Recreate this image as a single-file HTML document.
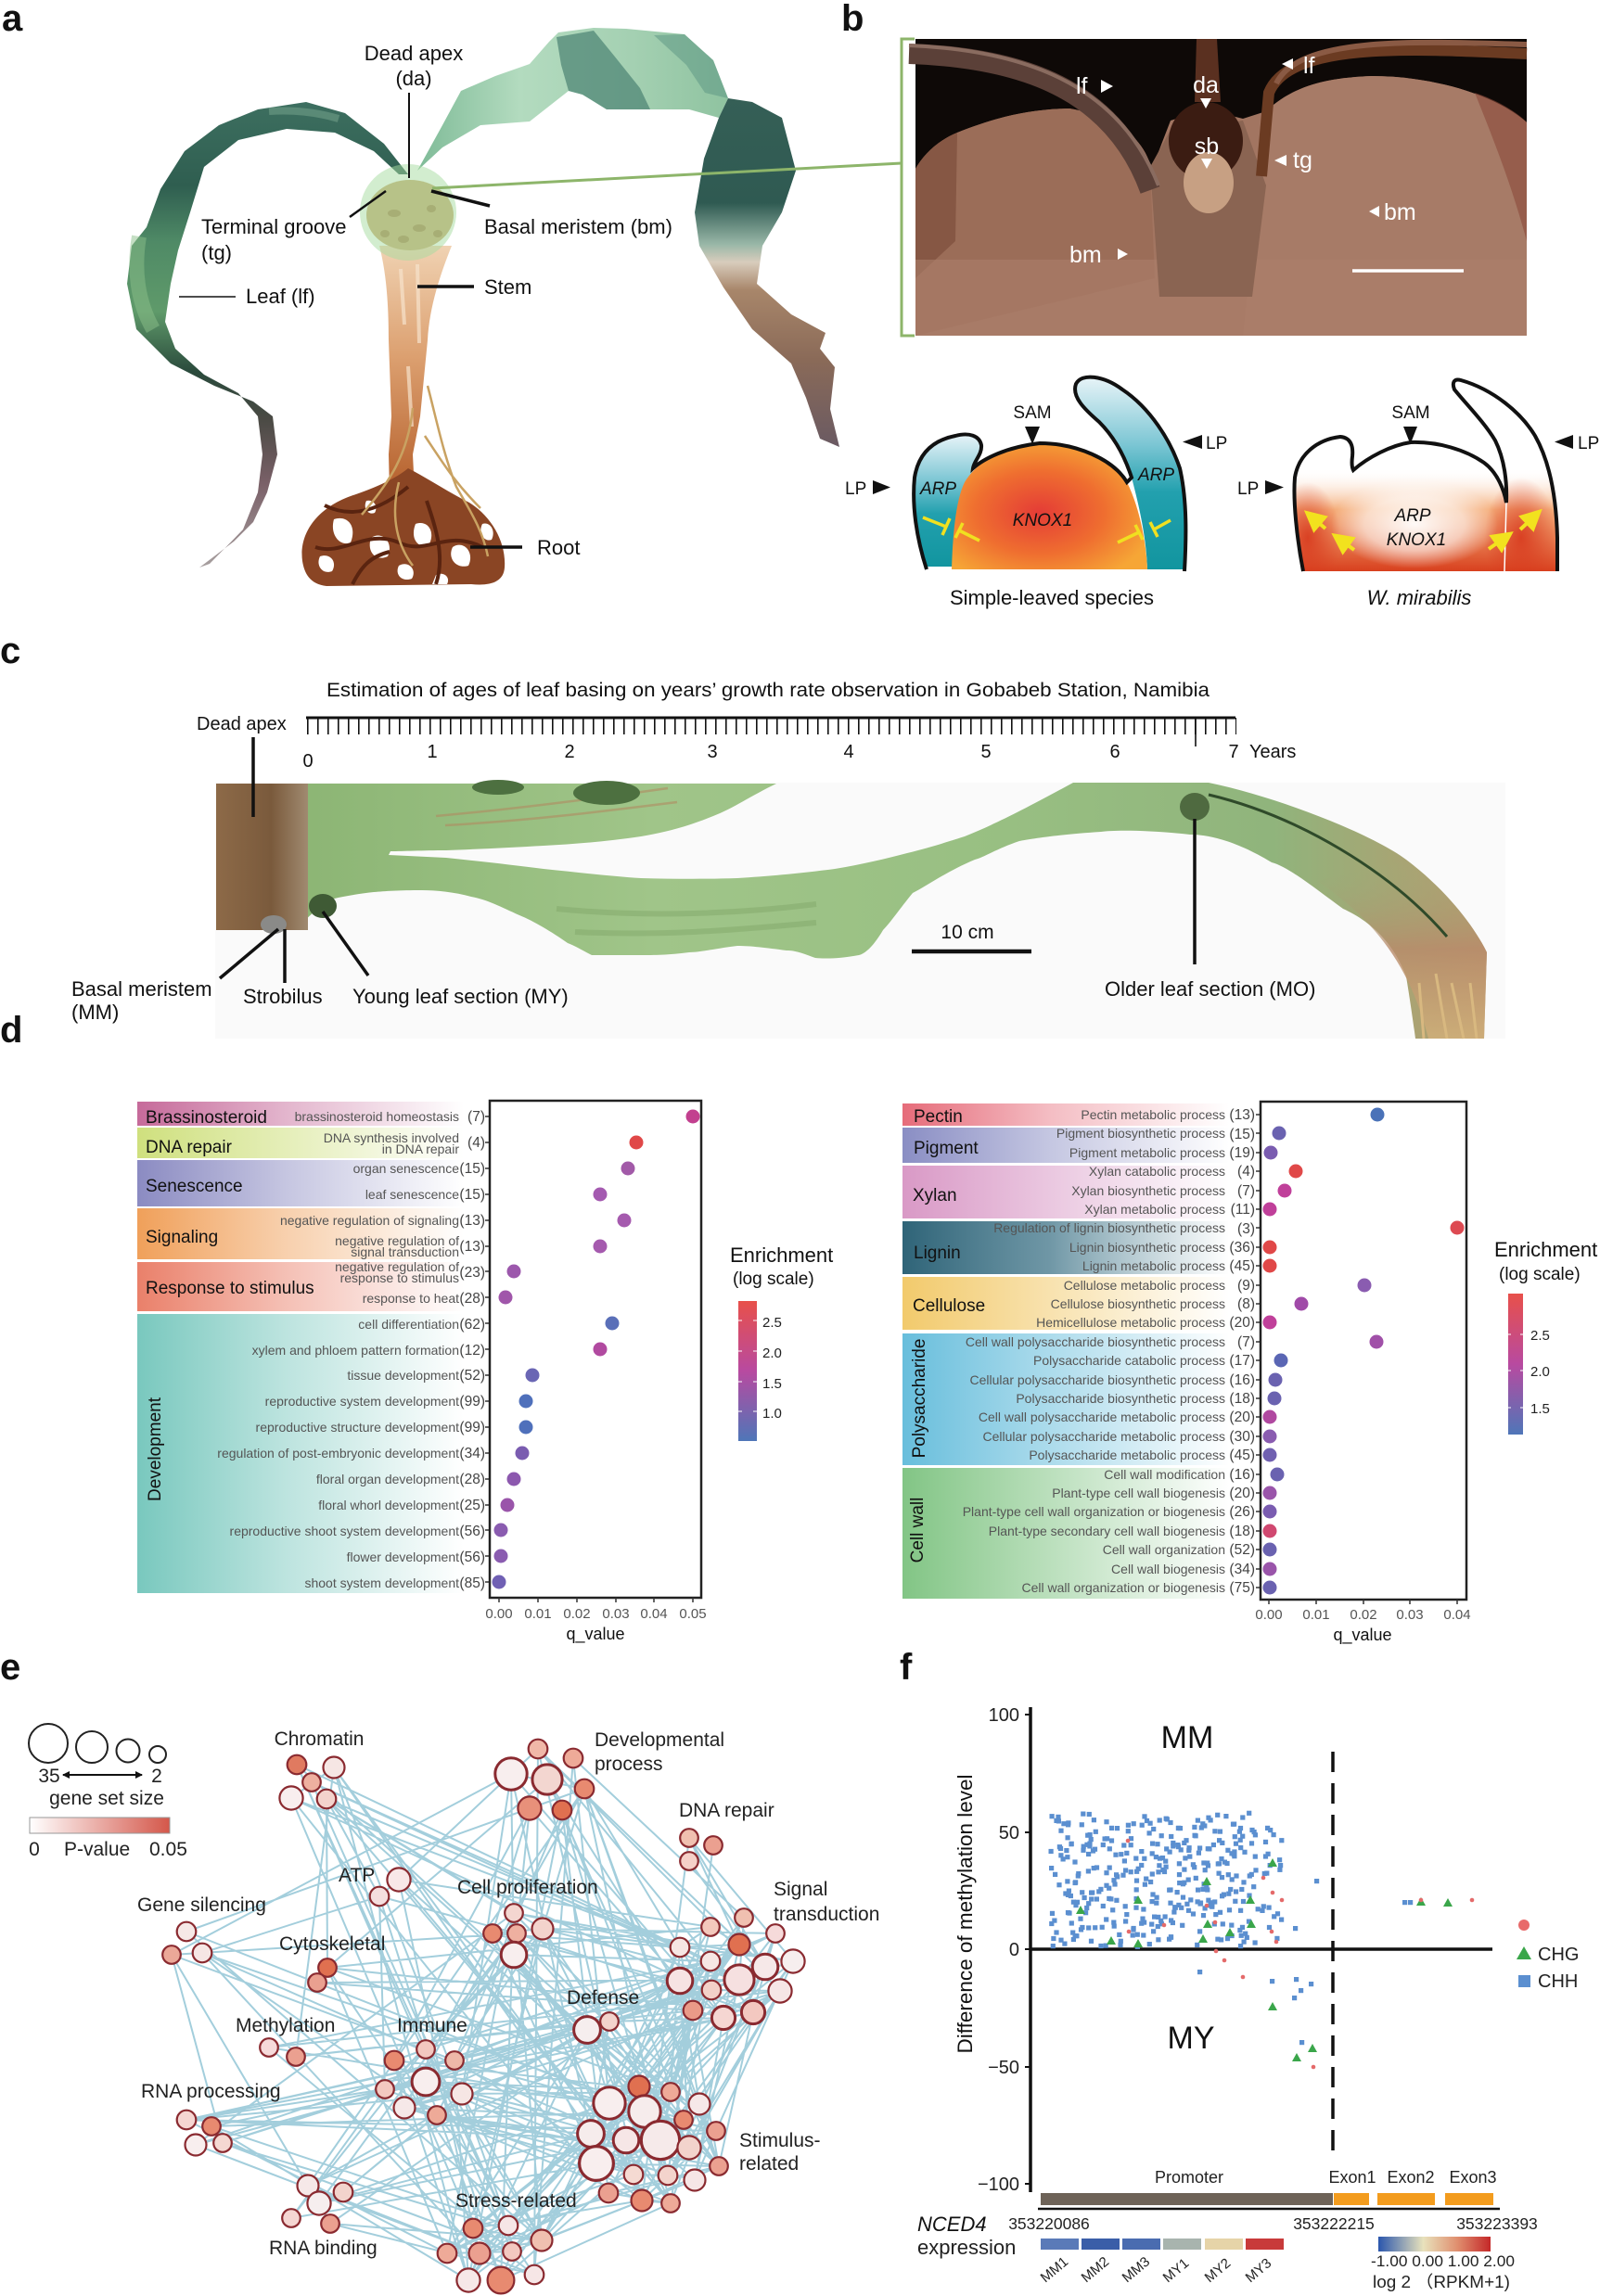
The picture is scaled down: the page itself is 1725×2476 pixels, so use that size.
<!DOCTYPE html>
<html><head><meta charset="utf-8">
<style>
html,body{margin:0;padding:0;background:#fff;}
svg{display:block;}
text{font-family:"Liberation Sans","Noto Sans CJK SC",sans-serif;}
</style></head><body>
<svg id="s" width="1725" height="2476" viewBox="0 0 1725 2476" xmlns="http://www.w3.org/2000/svg">
<defs>
<linearGradient id="lleaf" x1="0" y1="0" x2="0" y2="1">
<stop offset="0" stop-color="#3d6f60"/><stop offset="0.18" stop-color="#2f5e50"/><stop offset="0.3" stop-color="#4f8a66"/><stop offset="0.45" stop-color="#5f9a6a"/><stop offset="0.58" stop-color="#2a4a3c"/><stop offset="0.68" stop-color="#4a4a44"/><stop offset="0.82" stop-color="#7a6068"/><stop offset="1" stop-color="#a8a0a0"/>
</linearGradient>
<linearGradient id="rleaf" x1="0" y1="0" x2="1" y2="0">
<stop offset="0" stop-color="#7ab894"/><stop offset="0.35" stop-color="#b3dbbf"/><stop offset="0.7" stop-color="#a4d0b2"/><stop offset="1" stop-color="#8fc3a0"/>
</linearGradient>
<linearGradient id="rside" x1="0" y1="0" x2="0" y2="1">
<stop offset="0" stop-color="#355f56"/><stop offset="0.3" stop-color="#2f5a52"/><stop offset="0.42" stop-color="#9ab8a8"/><stop offset="0.47" stop-color="#d8ccbc"/><stop offset="0.55" stop-color="#a8866a"/><stop offset="0.75" stop-color="#8a6a58"/><stop offset="1" stop-color="#6a5a62"/>
</linearGradient>
<linearGradient id="stem" x1="0" y1="0" x2="0" y2="1">
<stop offset="0" stop-color="#f0d2b2"/><stop offset="0.45" stop-color="#dca070"/><stop offset="1" stop-color="#b5602c"/>
</linearGradient>
<linearGradient id="teal" x1="0" y1="0" x2="0" y2="1">
<stop offset="0" stop-color="#e8f4f8"/><stop offset="0.35" stop-color="#7cc6d4"/><stop offset="0.6" stop-color="#22a0ae"/><stop offset="1" stop-color="#12959f"/>
</linearGradient>
<radialGradient id="knox" cx="0.45" cy="0.55" r="0.6">
<stop offset="0" stop-color="#e43c36"/><stop offset="0.55" stop-color="#ef6e30"/><stop offset="1" stop-color="#f6a636"/>
</radialGradient>
<linearGradient id="wmv" gradientUnits="userSpaceOnUse" x1="0" y1="505" x2="0" y2="616">
<stop offset="0" stop-color="#ffffff" stop-opacity="0"/><stop offset="0.4" stop-color="#f29a5a" stop-opacity="0.8"/><stop offset="1" stop-color="#d8401e"/>
</linearGradient>
<radialGradient id="wmw" cx="0.5" cy="0.5" r="0.5">
<stop offset="0" stop-color="#fff" stop-opacity="0.95"/><stop offset="0.6" stop-color="#fff" stop-opacity="0.6"/><stop offset="1" stop-color="#fff" stop-opacity="0"/>
</radialGradient>
<radialGradient id="wmr" cx="0.5" cy="0.5" r="0.5">
<stop offset="0" stop-color="#d83a1e" stop-opacity="0.9"/><stop offset="1" stop-color="#d83a1e" stop-opacity="0"/>
</radialGradient>
<clipPath id="wmclip"><path d="M1405,616 C1398,580 1394,540 1396,515 C1400,490 1420,474 1445,471 C1457,472 1459,482 1458,492 C1457,500 1458,505 1459,507 C1475,493 1500,480 1521,477 C1550,476 1580,485 1600,499 C1615,510 1622,530 1624,542 C1625,520 1622,495 1612,475 C1600,455 1580,435 1568,420 C1565,412 1568,408 1575,410 C1610,420 1640,445 1655,470 C1672,500 1678,540 1679,580 L1679,616 Z"/></clipPath>
<linearGradient id="cleaf" x1="0" y1="0" x2="1" y2="0">
<stop offset="0" stop-color="#8cb574"/><stop offset="0.3" stop-color="#a0c589"/><stop offset="0.6" stop-color="#98bf82"/><stop offset="0.82" stop-color="#90b47c"/><stop offset="1" stop-color="#b89a6e"/>
</linearGradient>
<linearGradient id="ctail" x1="0" y1="0" x2="0" y2="1">
<stop offset="0" stop-color="#98b07a" stop-opacity="0"/><stop offset="0.5" stop-color="#b88a6a"/><stop offset="1" stop-color="#d2b07a"/>
</linearGradient>
<linearGradient id="soil" x1="0" y1="0" x2="1" y2="0">
<stop offset="0" stop-color="#8d6a48"/><stop offset="0.6" stop-color="#7a5a3c"/><stop offset="1" stop-color="#a08a70"/>
</linearGradient>
<pattern id="tick" x="331" y="0" width="11" height="20" patternUnits="userSpaceOnUse"><rect x="0" y="0" width="1.6" height="20" fill="#111"/></pattern>
<linearGradient id="gB"><stop offset="0" stop-color="#c66a9a"/><stop offset="0.45" stop-color="#c66a9a" stop-opacity="0.5"/><stop offset="1" stop-color="#c66a9a" stop-opacity="0"/></linearGradient>
<linearGradient id="gD"><stop offset="0" stop-color="#cfe07e"/><stop offset="0.45" stop-color="#cfe07e" stop-opacity="0.55"/><stop offset="1" stop-color="#cfe07e" stop-opacity="0"/></linearGradient>
<linearGradient id="gS"><stop offset="0" stop-color="#8b8bc2"/><stop offset="0.45" stop-color="#8b8bc2" stop-opacity="0.5"/><stop offset="1" stop-color="#8b8bc2" stop-opacity="0"/></linearGradient>
<linearGradient id="gG"><stop offset="0" stop-color="#f0a05a"/><stop offset="0.45" stop-color="#f0a05a" stop-opacity="0.5"/><stop offset="1" stop-color="#f0a05a" stop-opacity="0"/></linearGradient>
<linearGradient id="gR"><stop offset="0" stop-color="#ea806a"/><stop offset="0.45" stop-color="#ea806a" stop-opacity="0.5"/><stop offset="1" stop-color="#ea806a" stop-opacity="0"/></linearGradient>
<linearGradient id="gV"><stop offset="0" stop-color="#79c8be"/><stop offset="0.45" stop-color="#79c8be" stop-opacity="0.5"/><stop offset="1" stop-color="#79c8be" stop-opacity="0"/></linearGradient>
<linearGradient id="gP"><stop offset="0" stop-color="#e66c7a"/><stop offset="0.45" stop-color="#e66c7a" stop-opacity="0.45"/><stop offset="1" stop-color="#e66c7a" stop-opacity="0"/></linearGradient>
<linearGradient id="gPi"><stop offset="0" stop-color="#8a8ec4"/><stop offset="0.45" stop-color="#8a8ec4" stop-opacity="0.5"/><stop offset="1" stop-color="#8a8ec4" stop-opacity="0"/></linearGradient>
<linearGradient id="gX"><stop offset="0" stop-color="#d999c6"/><stop offset="0.45" stop-color="#d999c6" stop-opacity="0.55"/><stop offset="1" stop-color="#d999c6" stop-opacity="0"/></linearGradient>
<linearGradient id="gL"><stop offset="0" stop-color="#2f6478"/><stop offset="0.45" stop-color="#3f7488" stop-opacity="0.75"/><stop offset="1" stop-color="#5a8a9a" stop-opacity="0"/></linearGradient>
<linearGradient id="gC"><stop offset="0" stop-color="#f2ca6c"/><stop offset="0.45" stop-color="#f2ca6c" stop-opacity="0.55"/><stop offset="1" stop-color="#f2ca6c" stop-opacity="0"/></linearGradient>
<linearGradient id="gPo"><stop offset="0" stop-color="#68bedc"/><stop offset="0.45" stop-color="#68bedc" stop-opacity="0.55"/><stop offset="1" stop-color="#68bedc" stop-opacity="0"/></linearGradient>
<linearGradient id="gW"><stop offset="0" stop-color="#82c585"/><stop offset="0.45" stop-color="#82c585" stop-opacity="0.55"/><stop offset="1" stop-color="#82c585" stop-opacity="0"/></linearGradient>
<linearGradient id="enr" x1="0" y1="0" x2="0" y2="1">
<stop offset="0" stop-color="#e8504a"/><stop offset="0.5" stop-color="#b84aa0"/><stop offset="1" stop-color="#4f76b8"/>
</linearGradient>
<linearGradient id="pval" x1="0" y1="0" x2="1" y2="0">
<stop offset="0" stop-color="#ffffff"/><stop offset="1" stop-color="#d4574a"/>
</linearGradient>
<linearGradient id="expr" x1="0" y1="0" x2="1" y2="0">
<stop offset="0" stop-color="#2a56ad"/><stop offset="0.4" stop-color="#e8e2bc"/><stop offset="0.7" stop-color="#e09070"/><stop offset="1" stop-color="#c42828"/>
</linearGradient>
<marker id="ya" markerWidth="6" markerHeight="6" refX="3" refY="3" orient="auto" markerUnits="strokeWidth"><path d="M0,0 L6,3 L0,6 Z" fill="#f2e21e"/></marker>
<marker id="ba" markerWidth="8" markerHeight="8" refX="7" refY="4" orient="auto" markerUnits="userSpaceOnUse"><path d="M0,0 L8,4 L0,8 Z" fill="#111"/></marker>
<marker id="bs" markerWidth="8" markerHeight="8" refX="1" refY="4" orient="auto" markerUnits="userSpaceOnUse"><path d="M8,0 L0,4 L8,8 Z" fill="#111"/></marker>
</defs>

<!-- ===================== PANEL A ===================== -->
<text x="2" y="33" font-size="40" font-weight="bold" fill="#111">a</text>
<path d="M409,265 C418,300 419,340 419,367 L422,449 L419,490 L420,530 L447,530 L445,490 L453,449 L461,367 C463,330 475,295 487,265 Z" fill="url(#stem)"/>
<path d="M432,290 L436,350 M450,285 L452,370 M440,395 L444,460" stroke="#f6e2cc" stroke-width="4" fill="none" opacity="0.7"/>
<!-- roots (tangle) -->
<path d="M326,605 C322,575 342,548 378,535 C408,525 428,515 440,505 C460,515 482,530 506,542 C530,557 546,585 544,612 C543,628 528,632 508,630 L352,632 C334,630 328,618 326,605 Z" fill="#8a4524"/>
<g fill="#fff">
<path d="M360,560 C375,555 385,568 378,585 C368,590 355,578 360,560 Z"/>
<path d="M400,580 C412,572 425,585 418,600 C405,606 395,595 400,580 Z"/>
<path d="M448,565 C462,560 470,575 462,588 C450,592 442,580 448,565 Z"/>
<path d="M488,590 C500,582 512,596 505,610 C492,614 482,602 488,590 Z"/>
<path d="M345,600 C356,596 364,606 358,616 C348,620 340,610 345,600 Z"/>
<path d="M430,610 C440,604 450,614 444,624 C434,628 425,620 430,610 Z"/>
<path d="M520,565 C528,562 535,572 530,582 C522,585 515,575 520,565 Z"/>
<path d="M395,540 C403,538 408,546 404,553 C397,556 391,548 395,540 Z"/>
<path d="M470,620 C478,616 486,622 482,630 L466,630 Z"/>
</g>
<path d="M340,590 C370,600 395,570 430,585 C460,600 480,570 520,590 M350,545 C380,560 410,550 440,525 M380,630 C390,610 400,600 420,595 M460,540 C470,570 480,600 470,630" stroke="#5a2410" stroke-width="4" fill="none"/>
<path d="M461,416 C470,450 478,490 492,525 C505,548 520,570 526,600 M445,440 C440,490 420,520 390,555 M458,470 C478,500 490,520 518,548 M430,520 C420,560 430,590 445,610" stroke="#c9a262" stroke-width="2.5" fill="none"/>
<!-- bulb -->
<ellipse cx="442" cy="232" rx="47" ry="38" fill="#c9a870"/>
<ellipse cx="425" cy="230" rx="7" ry="4" fill="#a9804a"/><ellipse cx="452" cy="246" rx="7" ry="4" fill="#a9804a"/><ellipse cx="435" cy="258" rx="6" ry="4" fill="#a9804a"/><ellipse cx="465" cy="225" rx="5" ry="4" fill="#a9804a"/><ellipse cx="415" cy="252" rx="5" ry="4" fill="#a9804a"/><ellipse cx="472" cy="252" rx="5" ry="4" fill="#a9804a"/>
<!-- left leaf -->
<path d="M440,188 L414,155 L372,122 L330,110 L278,118 L236,135 L199,163 L173,204 L158,245 L142,265 L137,306 L147,355 L184,392 L231,416 L273,433 L294,449 L299,490 L288,531 L273,563 L252,584 L215,612 L226,608 L262,571 L278,531 L283,490 L278,449 L257,424 L220,404 L189,376 L178,347 L184,306 L192,270 L205,229 L220,180 L257,151 L309,139 L361,143 L403,163 L430,188 Z" fill="url(#lleaf)"/>
<path d="M150,255 C144,290 148,325 165,355" stroke="#8cc08a" stroke-width="16" fill="none" opacity="0.5"/>
<path d="M290,120 C320,118 345,122 365,128" stroke="#7aa890" stroke-width="8" fill="none" opacity="0.5"/>
<!-- right leaf -->
<path d="M440,196 L450,184 L477,135 L497,98 L534,82 L571,69 L592,45 L602,35 L640,30 L675,31 L738,37 L769,65 L785,106 L775,127 L743,118 L701,118 L654,118 L628,102 L613,98 L571,131 L518,135 L477,159 L450,184 Z" fill="url(#rleaf)"/>
<path d="M600,40 L640,33 L662,60 L690,95 L701,118 L654,118 L628,102 L613,98 L605,70 Z" fill="#4a8272" opacity="0.7"/>
<path d="M705,38 L738,37 L769,65 L785,106 L760,100 L740,70 Z" fill="#5a9482" opacity="0.5"/>
<path d="M775,127 L785,106 L811,110 L843,127 L858,184 L843,229 L822,265 L816,306 L853,339 L890,359 L884,376 L900,396 L895,441 L905,482 L884,473 L869,429 L853,392 L811,355 L780,310 L754,265 L749,229 L759,171 Z" fill="url(#rside)"/>
<circle cx="440" cy="229" r="52" fill="#a6dba0" opacity="0.5"/>
<line x1="441" y1="100" x2="441" y2="192" stroke="#111" stroke-width="2"/>
<line x1="377" y1="234" x2="416" y2="206" stroke="#111" stroke-width="2.5"/>
<line x1="465" y1="206" x2="528" y2="222" stroke="#111" stroke-width="3.5"/>
<line x1="450" y1="309" x2="511" y2="309" stroke="#111" stroke-width="3.5"/>
<line x1="193" y1="320" x2="254" y2="320" stroke="#111" stroke-width="1.6"/>
<line x1="507" y1="590" x2="563" y2="590" stroke="#111" stroke-width="3.5"/>
<line x1="466" y1="203" x2="972" y2="176" stroke="#8db56a" stroke-width="3"/>
<path d="M986,42 L972,42 L972,362 L986,362" stroke="#8db56a" stroke-width="3" fill="none"/>
<g font-size="22" fill="#111">
<text x="446" y="65" text-anchor="middle">Dead apex</text>
<text x="446" y="92" text-anchor="middle">(da)</text>
<text x="217" y="252">Terminal groove</text>
<text x="217" y="280">(tg)</text>
<text x="522" y="252">Basal meristem (bm)</text>
<text x="522" y="317">Stem</text>
<text x="265" y="327">Leaf (lf)</text>
<text x="579" y="598">Root</text>
</g>

<!-- ===================== PANEL B ===================== -->
<text x="907" y="33" font-size="40" font-weight="bold" fill="#111">b</text>
<g>
<rect x="987" y="42" width="659" height="320" fill="#a27561"/>
<path d="M987,42 H1646 V132 C1610,100 1540,82 1479,82 C1430,84 1395,92 1365,120 L1340,128 L1300,118 L1262,130 L1242,182 C1232,150 1210,128 1153,117 C1105,118 1070,128 1032,143 C1010,152 995,168 987,182 Z" fill="#0e0907"/>
<path d="M987,182 C995,168 1010,152 1032,143 C1070,128 1105,118 1153,117 C1200,125 1225,140 1240,182 L1245,300 L987,362 Z" fill="#9b6d58"/>
<path d="M987,182 C995,168 1010,152 1032,143 L1030,260 L987,300 Z" fill="#7e4e3c" opacity="0.7"/>
<path d="M1365,120 C1395,92 1430,84 1479,82 C1540,82 1610,100 1646,132 V362 H1340 Z" fill="#a77b67"/>
<path d="M1590,100 C1620,110 1640,125 1646,132 V260 C1630,200 1610,150 1590,100 Z" fill="#8a4a3a" opacity="0.6"/>
<rect x="987" y="280" width="659" height="82" fill="#ab7f6a" opacity="0.6"/>
<path d="M1240,180 L1262,140 L1340,130 L1365,200 L1350,320 L1250,320 Z" fill="#8a6452"/>
<path d="M1290,42 L1312,42 L1316,110 L1288,110 Z" fill="#5a3020"/>
<ellipse cx="1300" cy="152" rx="40" ry="42" fill="#3b1c12"/>
<ellipse cx="1303" cy="197" rx="27" ry="33" fill="#c7a083"/>
<path d="M980,58 C1100,62 1200,95 1240,205" stroke="#5b4038" stroke-width="22" fill="none"/>
<path d="M980,49 C1100,54 1205,88 1249,200" stroke="#8a6c60" stroke-width="4" fill="none"/>
<path d="M1646,58 C1520,52 1390,45 1368,100 L1360,190" stroke="#6b3b22" stroke-width="12" fill="none"/>
<path d="M1646,48 C1520,44 1400,40 1376,90" stroke="#8a5a44" stroke-width="6" fill="none"/>
<line x1="1458" y1="292" x2="1578" y2="292" stroke="#fff" stroke-width="3.5"/>
<g fill="#fff" font-size="25">
<text x="1160" y="101">lf</text><polygon points="1187,86 1200,93 1187,100"/>
<text x="1300" y="100" text-anchor="middle">da</text><polygon points="1294,106 1306,106 1300,117"/>
<polygon points="1394,63 1382,69 1394,75"/><text x="1405" y="79">lf</text>
<text x="1301" y="166" text-anchor="middle">sb</text><polygon points="1295,171 1307,171 1301,182"/>
<polygon points="1387,167 1374,173 1387,179"/><text x="1394" y="181">tg</text>
<polygon points="1487,222 1476,228 1487,234"/><text x="1492" y="237">bm</text>
<text x="1153" y="283">bm</text><polygon points="1205,268 1216,274 1205,280"/>
</g>
</g>
<path d="M997,611 C988,580 983,545 986,515 C990,490 1005,475 1030,470 C1045,466 1056,470 1058,480 C1059,490 1050,497 1049,505 C1047,520 1040,560 1032,611 Z" fill="url(#teal)"/>
<path d="M1237,614 C1236,580 1228,545 1220,515 C1212,490 1200,470 1185,455 C1170,442 1155,428 1160,414 C1166,402 1190,405 1210,420 C1240,440 1262,475 1272,505 C1280,540 1279,580 1277,614 Z" fill="url(#teal)"/>
<path d="M1026,614 C1027,580 1030,540 1040,520 C1055,495 1085,482 1121,478 C1160,478 1200,495 1215,520 C1230,550 1236,590 1237,614 Z" fill="url(#knox)"/>
<path d="M999,614 C988,580 983,545 986,515 C990,490 1005,475 1030,470 C1045,466 1056,470 1058,480 C1059,490 1050,497 1049,505 C1060,495 1085,482 1121,478 C1160,478 1200,495 1215,520 L1220,515 C1212,490 1200,470 1185,455 C1170,442 1155,428 1160,414 C1166,402 1190,405 1210,420 C1240,440 1262,475 1272,505 C1280,540 1279,580 1277,616" stroke="#111" stroke-width="4" fill="none"/>
<g stroke="#f0e020" stroke-width="3.5" fill="none">
<path d="M995,558 L1020,568 M1024,559 L1016,577"/>
<path d="M1056,583 L1034,572 M1030,580 L1038,564"/>
<path d="M1205,585 L1228,574 M1224,566 L1232,582"/>
<path d="M1262,561 L1244,571 M1240,563 L1248,579"/>
</g>
<g font-size="19" fill="#111">
<text x="1113" y="451" text-anchor="middle">SAM</text>
<polygon points="1105,460 1121,460 1113,479"/>
<text x="911" y="533">LP</text><polygon points="941,518 960,525.5 941,533"/>
<polygon points="1296,469 1275,476.5 1296,484"/><text x="1300" y="484">LP</text>
<text x="992" y="533" font-style="italic">ARP</text>
<text x="1227" y="518" font-style="italic">ARP</text>
<text x="1124" y="567" font-style="italic" text-anchor="middle">KNOX1</text>
</g>
<text x="1134" y="652" font-size="22" text-anchor="middle" fill="#111">Simple-leaved species</text>
<g clip-path="url(#wmclip)">
<rect x="1385" y="400" width="300" height="220" fill="#fff"/>
<rect x="1385" y="400" width="300" height="220" fill="url(#wmv)"/>
<ellipse cx="1410" cy="580" rx="35" ry="60" fill="url(#wmr)"/>
<ellipse cx="1640" cy="580" rx="40" ry="65" fill="url(#wmr)"/>
<ellipse cx="1525" cy="565" rx="90" ry="48" fill="url(#wmw)"/>
<line x1="1624" y1="542" x2="1622" y2="616" stroke="#fff" stroke-width="1.5"/>
</g>
<path d="M1405,616 C1398,580 1394,540 1396,515 C1400,490 1420,474 1445,471 C1457,472 1459,482 1458,492 C1457,500 1458,505 1459,507 C1475,493 1500,480 1521,477 C1550,476 1580,485 1600,499 C1615,510 1622,530 1624,542 C1625,520 1622,495 1612,475 C1600,455 1580,435 1568,420 C1565,412 1568,408 1575,410 C1610,420 1640,445 1655,470 C1672,500 1678,540 1679,580 L1679,616" stroke="#111" stroke-width="4" fill="none"/>
<g stroke="#f2e21e" stroke-width="4" fill="none" marker-end="url(#ya)">
<line x1="1429" y1="570" x2="1415" y2="558"/>
<line x1="1460" y1="593" x2="1445" y2="582"/>
<line x1="1605" y1="592" x2="1622" y2="580"/>
<line x1="1639" y1="571" x2="1654" y2="557"/>
</g>
<g font-size="19" fill="#111">
<text x="1521" y="451" text-anchor="middle">SAM</text>
<polygon points="1513,460 1528,460 1520.5,479"/>
<text x="1334" y="533">LP</text><polygon points="1364,518 1384,525.5 1364,533"/>
<polygon points="1696,469 1676,476.5 1696,484"/><text x="1701" y="484">LP</text>
<text x="1523" y="562" font-style="italic" text-anchor="middle">ARP</text>
<text x="1527" y="588" font-style="italic" text-anchor="middle">KNOX1</text>
</g>
<text x="1530" y="652" font-size="22" font-style="italic" text-anchor="middle" fill="#111">W. mirabilis</text>

<!-- ===================== PANEL C ===================== -->
<text x="0" y="715" font-size="40" font-weight="bold" fill="#111">c</text>
<text x="352" y="751" font-size="21" fill="#111" textLength="952" lengthAdjust="spacingAndGlyphs">Estimation of ages of leaf basing on years’ growth rate observation in Gobabeb Station, Namibia</text>
<line x1="330" y1="774" x2="1332" y2="774" stroke="#111" stroke-width="3"/>
<rect x="331" y="774" width="1002" height="18" fill="url(#tick)"/>
<line x1="1289" y1="774" x2="1289" y2="805" stroke="#111" stroke-width="1.6"/>
<g font-size="20" fill="#111" text-anchor="middle">
<text x="332" y="827">0</text><text x="466" y="817">1</text><text x="614" y="817">2</text><text x="768" y="817">3</text><text x="915" y="817">4</text><text x="1063" y="817">5</text><text x="1202" y="817">6</text><text x="1330" y="817">7</text>
</g>
<text x="1347" y="817" font-size="20" fill="#111">Years</text>
<text x="212" y="787" font-size="20" fill="#111">Dead apex</text>
<rect x="232" y="844" width="1391" height="276" fill="#fafafa"/>
<path d="M332,845 L837,845 C810,858 790,872 769,880 C740,892 715,898 691,902 C650,908 620,910 586,912 C550,914 510,916 481,917 C455,917 435,918 421,918 L419,922 C440,923 460,924 481,925 C520,929 555,933 586,937 C625,941 660,945 691,947 C730,948 765,948 795,947 C830,945 870,941 900,937 C930,932 955,926 978,920 C1010,912 1030,905 1040,902 C1070,890 1100,875 1157,844 L1303,844 C1380,860 1480,900 1516,927 C1560,960 1590,1000 1603,1027 L1600,1120 L1526,1120 C1522,1090 1518,1065 1516,1053 C1500,1010 1470,990 1448,980 C1420,960 1390,935 1371,930 C1330,905 1300,900 1283,900 C1240,895 1200,895 1187,897 C1140,900 1110,905 1099,907 C1075,915 1060,925 1051,927 C1020,940 1000,955 984,963 C970,980 960,995 952,1003 C945,1015 935,1028 926,1030 C905,1034 890,1034 879,1033 C865,1028 858,1025 848,1025 C825,1022 810,1020 795,1020 C770,1023 755,1027 743,1027 C720,1030 705,1030 691,1030 C670,1030 650,1030 638,1030 C628,1025 620,1020 612,1017 C595,1005 575,993 560,987 C540,978 525,970 508,967 C490,962 470,960 455,960 C430,960 415,961 403,962 C385,964 368,967 356,970 C340,980 330,992 319,1002 L332,1003 Z" fill="url(#cleaf)"/>
<path d="M1420,950 C1480,990 1520,1040 1540,1120 L1600,1120 L1603,1027 C1590,1000 1560,960 1516,927 Z" fill="url(#ctail)" opacity="0.8"/>
<path d="M1530,1060 L1535,1120 M1548,1050 L1560,1120 M1565,1060 L1578,1120 M1585,1060 L1592,1120" stroke="#d8b880" stroke-width="3"/>
<path d="M600,980 C700,990 800,985 880,975 M620,1005 C720,1010 800,1002 880,995" stroke="#82a86a" stroke-width="6" fill="none" opacity="0.5"/>
<path d="M470,880 C560,872 650,860 720,850 M480,890 C570,885 650,875 730,865" stroke="#b08a60" stroke-width="2.5" fill="none" opacity="0.6"/>
<path d="M1303,857 C1400,880 1500,940 1560,1010" stroke="#2f4a2a" stroke-width="3" fill="none"/>
<ellipse cx="537" cy="849" rx="28" ry="8" fill="#4d7040"/>
<ellipse cx="654" cy="855" rx="36" ry="13" fill="#4d7040"/>
<path d="M233,953 L262,975 L278,1002 L233,1002 Z" fill="#7aa060"/>
<rect x="233" y="845" width="99" height="158" fill="url(#soil)"/>
<ellipse cx="348" cy="977" rx="15" ry="13" fill="#3f5a35"/>
<ellipse cx="295" cy="997" rx="14" ry="10" fill="#8a8a88"/>
<ellipse cx="1288" cy="870" rx="16" ry="15" fill="#4f6a40"/>
<g stroke="#111" stroke-width="3.5">
<line x1="273" y1="795" x2="273" y2="881"/>
<line x1="237" y1="1055" x2="300" y2="1002"/>
<line x1="307" y1="1002" x2="307" y2="1060"/>
<line x1="348" y1="983" x2="397" y2="1052"/>
<line x1="1288" y1="883" x2="1288" y2="1040"/>
<line x1="983" y1="1026" x2="1112" y2="1026" stroke-width="4.5"/>
</g>
<g font-size="22" fill="#111">
<text x="1043" y="1012" text-anchor="middle" font-size="21">10 cm</text>
<text x="77" y="1074">Basal meristem</text>
<text x="77" y="1099">(MM)</text>
<text x="262" y="1082">Strobilus</text>
<text x="380" y="1082">Young leaf section (MY)</text>
<text x="1191" y="1074">Older leaf section (MO)</text>
</g>

<!-- ===================== PANEL D ===================== -->
<text x="0" y="1124" font-size="40" font-weight="bold" fill="#111">d</text>
<rect x="148" y="1188" width="352" height="26" fill="url(#gB)"/>
<rect x="148" y="1216" width="352" height="33" fill="url(#gD)"/>
<rect x="148" y="1251" width="352" height="50" fill="url(#gS)"/>
<rect x="148" y="1303" width="352" height="55" fill="url(#gG)"/>
<rect x="148" y="1361" width="352" height="53" fill="url(#gR)"/>
<rect x="148" y="1417" width="352" height="301" fill="url(#gV)"/>
<g font-size="19" fill="#111">
<text x="157" y="1211">Brassinosteroid</text>
<text x="157" y="1243">DNA repair</text>
<text x="157" y="1285">Senescence</text>
<text x="157" y="1340">Signaling</text>
<text x="157" y="1395">Response to stimulus</text>
<text transform="translate(173,1563) rotate(-90)" text-anchor="middle">Development</text>
</g>
<g font-size="14" fill="#555" text-anchor="end">
<text x="495" y="1209">brassinosteroid homeostasis</text>
<text x="495" y="1232">DNA synthesis involved</text><text x="495" y="1244">in DNA repair</text>
<text x="495" y="1265">organ senescence</text>
<text x="495" y="1293">leaf senescence</text>
<text x="495" y="1321">negative regulation of signaling</text>
<text x="495" y="1343">negative regulation of</text><text x="495" y="1355">signal transduction</text>
<text x="495" y="1371">negative regulation of</text><text x="495" y="1383">response to stimulus</text>
<text x="495" y="1405">response to heat</text>
<text x="495" y="1433">cell differentiation</text>
<text x="495" y="1461">xylem and phloem pattern formation</text>
<text x="495" y="1488">tissue development</text>
<text x="495" y="1516">reproductive system development</text>
<text x="495" y="1544">reproductive structure development</text>
<text x="495" y="1572">regulation of post-embryonic development</text>
<text x="495" y="1600">floral organ development</text>
<text x="495" y="1628">floral whorl development</text>
<text x="495" y="1656">reproductive shoot system development</text>
<text x="495" y="1684">flower development</text>
<text x="495" y="1712">shoot system development</text>
</g>
<g font-size="15.5" fill="#444" text-anchor="end">
<text x="523" y="1209">(7)</text><text x="523" y="1237">(4)</text><text x="523" y="1265">(15)</text><text x="523" y="1293">(15)</text><text x="523" y="1321">(13)</text><text x="523" y="1349">(13)</text><text x="523" y="1377">(23)</text><text x="523" y="1405">(28)</text><text x="523" y="1433">(62)</text><text x="523" y="1461">(12)</text><text x="523" y="1488">(52)</text><text x="523" y="1516">(99)</text><text x="523" y="1544">(99)</text><text x="523" y="1572">(34)</text><text x="523" y="1600">(28)</text><text x="523" y="1628">(25)</text><text x="523" y="1656">(56)</text><text x="523" y="1684">(56)</text><text x="523" y="1712">(85)</text>
</g>
<path d="M523,1204h5M523,1232h5M523,1260h5M523,1288h5M523,1316h5M523,1344h5M523,1371h5M523,1399h5M523,1427h5M523,1455h5M523,1483h5M523,1511h5M523,1539h5M523,1567h5M523,1595h5M523,1623h5M523,1650h5M523,1678h5M523,1706h5" stroke="#333" stroke-width="1.5"/>
<rect x="528" y="1187" width="228" height="536" fill="none" stroke="#222" stroke-width="2.5"/>
<g>
<circle cx="747" cy="1204" r="7.5" fill="#c2408f"/>
<circle cx="686" cy="1232" r="7.5" fill="#e04848"/>
<circle cx="677" cy="1260" r="7.5" fill="#a25aa8"/>
<circle cx="647" cy="1288" r="7.5" fill="#a45ab0"/>
<circle cx="673" cy="1316" r="7.5" fill="#a55aae"/>
<circle cx="647" cy="1344" r="7.5" fill="#a55aae"/>
<circle cx="554" cy="1371" r="7.5" fill="#9c58ac"/>
<circle cx="545" cy="1399" r="7.5" fill="#a056aa"/>
<circle cx="660" cy="1427" r="7.5" fill="#5a6fb8"/>
<circle cx="647" cy="1455" r="7.5" fill="#b14aa0"/>
<circle cx="574" cy="1483" r="7.5" fill="#6a66b4"/>
<circle cx="567" cy="1511" r="7.5" fill="#4f70bb"/>
<circle cx="567" cy="1539" r="7.5" fill="#4f70bb"/>
<circle cx="563" cy="1567" r="7.5" fill="#7a5cb0"/>
<circle cx="554" cy="1595" r="7.5" fill="#8c58ae"/>
<circle cx="547" cy="1623" r="7.5" fill="#9a55aa"/>
<circle cx="540" cy="1650" r="7.5" fill="#8a5cb0"/>
<circle cx="540" cy="1678" r="7.5" fill="#8a5cb0"/>
<circle cx="538" cy="1706" r="7.5" fill="#7060b4"/>
</g>
<path d="M538,1723v5M580,1723v5M622,1723v5M664,1723v5M705,1723v5M747,1723v5" stroke="#333" stroke-width="1.5"/>
<g font-size="15" fill="#555" text-anchor="middle">
<text x="538" y="1745">0.00</text><text x="580" y="1745">0.01</text><text x="622" y="1745">0.02</text><text x="664" y="1745">0.03</text><text x="705" y="1745">0.04</text><text x="747" y="1745">0.05</text>
</g>
<text x="642" y="1768" font-size="18" fill="#111" text-anchor="middle">q_value</text>
<text x="787" y="1361" font-size="22" fill="#111">Enrichment</text>
<text x="790" y="1385" font-size="19" fill="#111">(log scale)</text>
<rect x="796" y="1403" width="20" height="151" fill="url(#enr)"/>
<path d="M796,1424h4M812,1424h4M796,1457h4M812,1457h4M796,1490h4M812,1490h4M796,1522h4M812,1522h4" stroke="#fff" stroke-width="1"/>
<g font-size="15" fill="#222"><text x="822" y="1431">2.5</text><text x="822" y="1464">2.0</text><text x="822" y="1497">1.5</text><text x="822" y="1529">1.0</text></g>

<rect x="973" y="1190" width="352" height="24" fill="url(#gP)"/>
<rect x="973" y="1216" width="352" height="38" fill="url(#gPi)"/>
<rect x="973" y="1257" width="352" height="57" fill="url(#gX)"/>
<rect x="973" y="1317" width="352" height="57" fill="url(#gL)"/>
<rect x="973" y="1377" width="352" height="57" fill="url(#gC)"/>
<rect x="973" y="1438" width="352" height="142" fill="url(#gPo)"/>
<rect x="973" y="1583" width="352" height="141" fill="url(#gW)"/>
<g font-size="19" fill="#111">
<text x="985" y="1210">Pectin</text>
<text x="985" y="1244">Pigment</text>
<text x="984" y="1295">Xylan</text>
<text x="985" y="1357">Lignin</text>
<text x="984" y="1414">Cellulose</text>
<text transform="translate(997,1508) rotate(-90)" text-anchor="middle">Polysaccharide</text>
<text transform="translate(995,1650) rotate(-90)" text-anchor="middle">Cell wall</text>
</g>
<g font-size="14" fill="#555" text-anchor="end">
<text x="1321" y="1207">Pectin metabolic process</text>
<text x="1321" y="1227">Pigment biosynthetic process</text>
<text x="1321" y="1248">Pigment metabolic process</text>
<text x="1321" y="1268">Xylan catabolic process</text>
<text x="1321" y="1289">Xylan biosynthetic process</text>
<text x="1321" y="1309">Xylan metabolic process</text>
<text x="1321" y="1329">Regulation of lignin biosynthetic process</text>
<text x="1321" y="1350">Lignin biosynthetic process</text>
<text x="1321" y="1370">Lignin metabolic process</text>
<text x="1321" y="1391">Cellulose metabolic process</text>
<text x="1321" y="1411">Cellulose biosynthetic process</text>
<text x="1321" y="1431">Hemicellulose metabolic process</text>
<text x="1321" y="1452">Cell wall polysaccharide biosynthetic process</text>
<text x="1321" y="1472">Polysaccharide catabolic process</text>
<text x="1321" y="1493">Cellular polysaccharide biosynthetic process</text>
<text x="1321" y="1513">Polysaccharide biosynthetic process</text>
<text x="1321" y="1533">Cell wall polysaccharide metabolic process</text>
<text x="1321" y="1554">Cellular polysaccharide metabolic process</text>
<text x="1321" y="1574">Polysaccharide metabolic process</text>
<text x="1321" y="1595">Cell wall modification</text>
<text x="1321" y="1615">Plant-type cell wall biogenesis</text>
<text x="1321" y="1635">Plant-type cell wall organization or biogenesis</text>
<text x="1321" y="1656">Plant-type secondary cell wall biogenesis</text>
<text x="1321" y="1676">Cell wall organization</text>
<text x="1321" y="1697">Cell wall biogenesis</text>
<text x="1321" y="1717">Cell wall organization or biogenesis</text>
</g>
<g font-size="15.5" fill="#444" text-anchor="end">
<text x="1353" y="1207">(13)</text><text x="1353" y="1228">(15)</text><text x="1353" y="1248">(19)</text><text x="1353" y="1268">(4)</text><text x="1353" y="1289">(7)</text><text x="1353" y="1309">(11)</text><text x="1353" y="1330">(3)</text><text x="1353" y="1350">(36)</text><text x="1353" y="1370">(45)</text><text x="1353" y="1391">(9)</text><text x="1353" y="1411">(8)</text><text x="1353" y="1431">(20)</text><text x="1353" y="1452">(7)</text><text x="1353" y="1472">(17)</text><text x="1353" y="1493">(16)</text><text x="1353" y="1513">(18)</text><text x="1353" y="1533">(20)</text><text x="1353" y="1554">(30)</text><text x="1353" y="1574">(45)</text><text x="1353" y="1595">(16)</text><text x="1353" y="1615">(20)</text><text x="1353" y="1635">(26)</text><text x="1353" y="1656">(18)</text><text x="1353" y="1676">(52)</text><text x="1353" y="1697">(34)</text><text x="1353" y="1717">(75)</text>
</g>
<path d="M1354,1202h5M1354,1222h5M1354,1243h5M1354,1263h5M1354,1284h5M1354,1304h5M1354,1324h5M1354,1345h5M1354,1365h5M1354,1386h5M1354,1406h5M1354,1426h5M1354,1447h5M1354,1467h5M1354,1488h5M1354,1508h5M1354,1528h5M1354,1549h5M1354,1569h5M1354,1590h5M1354,1610h5M1354,1630h5M1354,1651h5M1354,1671h5M1354,1692h5M1354,1712h5" stroke="#333" stroke-width="1.5"/>
<rect x="1359" y="1188" width="222" height="537" fill="none" stroke="#222" stroke-width="2.5"/>
<g>
<circle cx="1485" cy="1202" r="7.5" fill="#4a72b8"/>
<circle cx="1379" cy="1222" r="7.5" fill="#6a62b0"/>
<circle cx="1370" cy="1243" r="7.5" fill="#7a5cb0"/>
<circle cx="1397" cy="1263" r="7.5" fill="#e04848"/>
<circle cx="1385" cy="1284" r="7.5" fill="#c0409a"/>
<circle cx="1369" cy="1304" r="7.5" fill="#c0409a"/>
<circle cx="1571" cy="1324" r="7.5" fill="#dd4a52"/>
<circle cx="1369" cy="1345" r="7.5" fill="#e04848"/>
<circle cx="1369" cy="1365" r="7.5" fill="#e04848"/>
<circle cx="1471" cy="1386" r="7.5" fill="#8a5cb0"/>
<circle cx="1403" cy="1406" r="7.5" fill="#a04aa8"/>
<circle cx="1369" cy="1426" r="7.5" fill="#c0409a"/>
<circle cx="1484" cy="1447" r="7.5" fill="#a050a8"/>
<circle cx="1381" cy="1467" r="7.5" fill="#5a66b4"/>
<circle cx="1375" cy="1488" r="7.5" fill="#6a62b0"/>
<circle cx="1374" cy="1508" r="7.5" fill="#6a62b0"/>
<circle cx="1369" cy="1528" r="7.5" fill="#b048a0"/>
<circle cx="1369" cy="1549" r="7.5" fill="#8a5cb0"/>
<circle cx="1369" cy="1569" r="7.5" fill="#7060b0"/>
<circle cx="1377" cy="1590" r="7.5" fill="#6a62b0"/>
<circle cx="1369" cy="1610" r="7.5" fill="#9a55aa"/>
<circle cx="1369" cy="1630" r="7.5" fill="#7a5cb0"/>
<circle cx="1369" cy="1651" r="7.5" fill="#d04870"/>
<circle cx="1369" cy="1671" r="7.5" fill="#6a62b0"/>
<circle cx="1369" cy="1692" r="7.5" fill="#9a55aa"/>
<circle cx="1369" cy="1712" r="7.5" fill="#6a62b0"/>
</g>
<path d="M1368,1725v5M1419,1725v5M1470,1725v5M1520,1725v5M1571,1725v5" stroke="#333" stroke-width="1.5"/>
<g font-size="15" fill="#555" text-anchor="middle">
<text x="1368" y="1746">0.00</text><text x="1419" y="1746">0.01</text><text x="1470" y="1746">0.02</text><text x="1520" y="1746">0.03</text><text x="1571" y="1746">0.04</text>
</g>
<text x="1469" y="1769" font-size="18" fill="#111" text-anchor="middle">q_value</text>
<text x="1611" y="1355" font-size="22" fill="#111">Enrichment</text>
<text x="1616" y="1380" font-size="19" fill="#111">(log scale)</text>
<rect x="1626" y="1395" width="16" height="152" fill="url(#enr)"/>
<path d="M1626,1439h3M1639,1439h3M1626,1478h3M1639,1478h3M1626,1518h3M1639,1518h3" stroke="#fff" stroke-width="1"/>
<g font-size="15" fill="#222"><text x="1650" y="1445">2.5</text><text x="1650" y="1484">2.0</text><text x="1650" y="1524">1.5</text></g>

<!-- ===================== PANEL E ===================== -->
<text x="0" y="1811" font-size="40" font-weight="bold" fill="#111">e</text>
<g fill="#fff" stroke="#222" stroke-width="2">
<circle cx="52" cy="1880" r="21"/><circle cx="99" cy="1884" r="17"/><circle cx="138" cy="1888" r="12.5"/><circle cx="170" cy="1892" r="9"/>
</g>
<line x1="68" y1="1914" x2="153" y2="1914" stroke="#111" stroke-width="2" marker-end="url(#ba)" marker-start="url(#bs)"/>
<g font-size="21" fill="#222">
<text x="53" y="1922" text-anchor="middle">35</text>
<text x="169" y="1922" text-anchor="middle">2</text>
<text x="115" y="1946" text-anchor="middle">gene set size</text>
<text x="37" y="2001" text-anchor="middle">0</text>
<text x="69" y="2001">P-value</text>
<text x="161" y="2001">0.05</text>
</g>
<rect x="32" y="1960" width="151" height="17" fill="url(#pval)" stroke="#999" stroke-width="1"/>
<g id="edges"></g>
<g id="nodes" stroke="#8a2a30" stroke-width="2.2">
<circle class="k0" cx="320" cy="1903" r="10.3" fill="#e07a60"/>
<circle class="k0" cx="360" cy="1906" r="11.5" fill="#f6e6e4"/>
<circle class="k0" cx="336" cy="1922" r="9.8" fill="#eeb0a0"/>
<circle class="k0" cx="314" cy="1939" r="12.6" fill="#f8eeee"/>
<circle class="k0" cx="352" cy="1940" r="10.3" fill="#f3d3cc"/>
<circle class="k1" cx="580" cy="1886" r="10.3" fill="#f0b8a8"/>
<circle class="k1" cx="551" cy="1913" r="17.2" fill="#f8eeee" stroke-width="3"/>
<circle class="k1" cx="590" cy="1919" r="16.1" fill="#f3d6d0" stroke-width="3"/>
<circle class="k1" cx="618" cy="1896" r="10.3" fill="#eeaa98"/>
<circle class="k1" cx="630" cy="1929" r="10.3" fill="#e88a70"/>
<circle class="k1" cx="571" cy="1950" r="12.6" fill="#e8907a"/>
<circle class="k1" cx="606" cy="1952" r="10.3" fill="#e07050"/>
<circle class="k2" cx="743" cy="1982" r="9.8" fill="#f0c0b0"/>
<circle class="k2" cx="769" cy="1990" r="9.8" fill="#eba090"/>
<circle class="k2" cx="743" cy="2007" r="9.8" fill="#f5d0c8"/>
<circle class="k3" cx="430" cy="2027" r="12.6" fill="#f8e8e8"/>
<circle class="k3" cx="409" cy="2045" r="10.3" fill="#f5dede"/>
<circle class="k4" cx="201" cy="2083" r="10.3" fill="#f6e8e6"/>
<circle class="k4" cx="185" cy="2108" r="9.8" fill="#eba898"/>
<circle class="k4" cx="218" cy="2106" r="10.3" fill="#f6e6e4"/>
<circle class="k5" cx="353" cy="2122" r="9.8" fill="#e07050"/>
<circle class="k5" cx="342" cy="2138" r="9.8" fill="#eaa090"/>
<circle class="k6" cx="554" cy="2063" r="9.8" fill="#f4d6d0"/>
<circle class="k6" cx="531" cy="2085" r="9.8" fill="#e88a70"/>
<circle class="k6" cx="557" cy="2085" r="9.8" fill="#eeb0a0"/>
<circle class="k6" cx="585" cy="2080" r="11.5" fill="#f3d3cc"/>
<circle class="k6" cx="554" cy="2108" r="13.8" fill="#f8eeee" stroke-width="3"/>
<circle class="k7" cx="802" cy="2068" r="9.8" fill="#f0c0b0"/>
<circle class="k7" cx="766" cy="2078" r="9.8" fill="#f3c8bc"/>
<circle class="k7" cx="836" cy="2085" r="9.8" fill="#f6dada"/>
<circle class="k7" cx="733" cy="2100" r="10.3" fill="#f6e6e4"/>
<circle class="k7" cx="797" cy="2097" r="11.5" fill="#e07050"/>
<circle class="k7" cx="766" cy="2115" r="10.3" fill="#f6e6e4"/>
<circle class="k7" cx="855" cy="2115" r="12.6" fill="#f6eeee"/>
<circle class="k7" cx="825" cy="2121" r="13.8" fill="#f6e8e8" stroke-width="3"/>
<circle class="k7" cx="733" cy="2136" r="13.8" fill="#f6e3e3" stroke-width="3"/>
<circle class="k7" cx="797" cy="2135" r="16.1" fill="#f6e0e0" stroke-width="3"/>
<circle class="k7" cx="767" cy="2146" r="10.3" fill="#f3d0c8"/>
<circle class="k7" cx="841" cy="2147" r="12.6" fill="#f6e6e6"/>
<circle class="k7" cx="747" cy="2168" r="10.3" fill="#ea9a88"/>
<circle class="k7" cx="780" cy="2176" r="12.6" fill="#f5d6d2" stroke-width="3"/>
<circle class="k7" cx="812" cy="2170" r="12.6" fill="#f3c8c0" stroke-width="3"/>
<circle class="k8" cx="633" cy="2189" r="14.4" fill="#f6eeee" stroke-width="3"/>
<circle class="k8" cx="657" cy="2180" r="9.8" fill="#f3d3cc"/>
<circle class="k9" cx="290" cy="2208" r="9.8" fill="#f6dada"/>
<circle class="k9" cx="319" cy="2218" r="9.8" fill="#eba090"/>
<circle class="k10" cx="459" cy="2210" r="9.8" fill="#f3c8c0"/>
<circle class="k10" cx="425" cy="2222" r="10.3" fill="#e88a70"/>
<circle class="k10" cx="490" cy="2222" r="9.8" fill="#eeb8a8"/>
<circle class="k10" cx="459" cy="2245" r="14.9" fill="#f8eeee" stroke-width="3"/>
<circle class="k10" cx="415" cy="2253" r="9.8" fill="#f3c8c0"/>
<circle class="k10" cx="498" cy="2258" r="11.5" fill="#f6e6e4"/>
<circle class="k10" cx="436" cy="2273" r="11.5" fill="#f6e8e8"/>
<circle class="k10" cx="471" cy="2281" r="9.8" fill="#eeaa98"/>
<circle class="k11" cx="201" cy="2286" r="10.3" fill="#f5d6d2"/>
<circle class="k11" cx="228" cy="2293" r="9.8" fill="#e88a70"/>
<circle class="k11" cx="211" cy="2313" r="11.5" fill="#f8eeee"/>
<circle class="k11" cx="240" cy="2311" r="9.8" fill="#f5d8d2"/>
<circle class="k12" cx="689" cy="2250" r="11.5" fill="#e07050"/>
<circle class="k12" cx="723" cy="2256" r="9.8" fill="#eeaa98"/>
<circle class="k12" cx="657" cy="2268" r="17.2" fill="#f8eeee" stroke-width="3"/>
<circle class="k12" cx="695" cy="2277" r="17.2" fill="#f6ecec" stroke-width="3"/>
<circle class="k12" cx="754" cy="2269" r="11.5" fill="#f6e8e8"/>
<circle class="k12" cx="737" cy="2286" r="9.8" fill="#e88a70"/>
<circle class="k12" cx="637" cy="2301" r="14.4" fill="#f6ecec" stroke-width="3"/>
<circle class="k12" cx="675" cy="2308" r="13.8" fill="#f6e6e6" stroke-width="3"/>
<circle class="k12" cx="712" cy="2308" r="20.7" fill="#f6eaea" stroke-width="3.2"/>
<circle class="k12" cx="743" cy="2316" r="12.6" fill="#f3d3cc"/>
<circle class="k12" cx="772" cy="2298" r="9.8" fill="#eba090"/>
<circle class="k12" cx="643" cy="2333" r="18.4" fill="#f8eeee" stroke-width="3.2"/>
<circle class="k12" cx="683" cy="2345" r="10.3" fill="#f5dad2"/>
<circle class="k12" cx="720" cy="2346" r="10.3" fill="#f3d3cc"/>
<circle class="k12" cx="749" cy="2351" r="11.5" fill="#f6e6e6"/>
<circle class="k12" cx="775" cy="2336" r="9.8" fill="#eba090"/>
<circle class="k12" cx="656" cy="2365" r="10.3" fill="#eba090"/>
<circle class="k12" cx="692" cy="2373" r="11.5" fill="#e88a70"/>
<circle class="k12" cx="723" cy="2376" r="9.8" fill="#eeaa98"/>
<circle class="k13" cx="332" cy="2357" r="11.5" fill="#f6e8e8"/>
<circle class="k13" cx="370" cy="2364" r="10.3" fill="#f3d3cc"/>
<circle class="k13" cx="344" cy="2376" r="12.6" fill="#f6eeee"/>
<circle class="k13" cx="314" cy="2392" r="9.8" fill="#f5d6d2"/>
<circle class="k13" cx="356" cy="2398" r="9.8" fill="#eba090"/>
<circle class="k14" cx="510" cy="2403" r="10.3" fill="#e88a70"/>
<circle class="k14" cx="548" cy="2400" r="10.3" fill="#f6e6e6"/>
<circle class="k14" cx="584" cy="2416" r="11.5" fill="#f0c0b0"/>
<circle class="k14" cx="482" cy="2430" r="10.3" fill="#eeaa98"/>
<circle class="k14" cx="517" cy="2430" r="11.5" fill="#eba090"/>
<circle class="k14" cx="552" cy="2428" r="9.8" fill="#f3c8c0"/>
<circle class="k14" cx="505" cy="2459" r="12.6" fill="#f6e8e8"/>
<circle class="k14" cx="540" cy="2459" r="14.4" fill="#e88a70"/>
<circle class="k14" cx="576" cy="2453" r="10.3" fill="#f6e6e6"/>
</g>
<g font-size="21" fill="#222">
<text x="344" y="1882" text-anchor="middle">Chromatin</text>
<text x="641" y="1883">Developmental</text>
<text x="641" y="1909">process</text>
<text x="732" y="1959">DNA repair</text>
<text x="365" y="2029">ATP</text>
<text x="493" y="2042">Cell proliferation</text>
<text x="834" y="2044">Signal</text>
<text x="834" y="2071">transduction</text>
<text x="148" y="2061">Gene silencing</text>
<text x="301" y="2103">Cytoskeletal</text>
<text x="611" y="2161">Defense</text>
<text x="254" y="2191">Methylation</text>
<text x="428" y="2191">Immune</text>
<text x="152" y="2262">RNA processing</text>
<text x="797" y="2315">Stimulus-</text>
<text x="797" y="2340">related</text>
<text x="491" y="2380">Stress-related</text>
<text x="290" y="2431">RNA binding</text>
</g>

<!-- ===================== PANEL F ===================== -->
<text x="970" y="1811" font-size="40" font-weight="bold" fill="#111">f</text>
<line x1="1111" y1="1841" x2="1111" y2="2364" stroke="#111" stroke-width="3.5"/>
<line x1="1111" y1="2102" x2="1609" y2="2102" stroke="#111" stroke-width="3.5"/>
<line x1="1437" y1="1889" x2="1437" y2="2330" stroke="#111" stroke-width="3.5" stroke-dasharray="22,12"/>
<path d="M1105,1849h6M1105,1976h6M1105,2102h6M1105,2229h6M1105,2355h6" stroke="#111" stroke-width="2"/>
<g font-size="20" fill="#222" text-anchor="end">
<text x="1099" y="1856">100</text><text x="1099" y="1983">50</text><text x="1099" y="2109">0</text><text x="1099" y="2236">−50</text><text x="1099" y="2362">−100</text>
</g>
<text transform="translate(1048,2064) rotate(-90)" font-size="22.5" fill="#111" text-anchor="middle">Difference of methylation level</text>
<text x="1280" y="1885" font-size="34" fill="#111" text-anchor="middle">MM</text>
<text x="1284" y="2209" font-size="34" fill="#111" text-anchor="middle">MY</text>
<g id="sc" fill="#5b8fd0"></g>
<g fill="#5b8fd0">
<rect x="1417" y="2026" width="5.2" height="5.2"/><rect x="1394" y="2077" width="5.2" height="5.2"/><rect x="1369" y="2134" width="5.2" height="5.2"/><rect x="1395" y="2132" width="5.2" height="5.2"/><rect x="1400" y="2144" width="5.2" height="5.2"/><rect x="1411" y="2137" width="5.2" height="5.2"/><rect x="1393" y="2152" width="5.2" height="5.2"/><rect x="1401" y="2200" width="5.2" height="5.2"/><rect x="1291" y="2124" width="5.2" height="5.2"/><rect x="1512" y="2049" width="5.2" height="5.2"/><rect x="1518" y="2049" width="5.2" height="5.2"/>
</g>
<g fill="#3aa64a">
<polygon points="1532,2046 1537,2055 1527,2055"/><polygon points="1561,2047 1566,2056 1556,2056"/><polygon points="1372,2159 1377,2168 1367,2168"/><polygon points="1398,2214 1403,2223 1393,2223"/><polygon points="1415,2204 1420,2213 1410,2213"/>
<polygon points="1165,2055 1170,2064 1160,2064"/><polygon points="1198,2088 1203,2097 1193,2097"/><polygon points="1227,2091 1232,2100 1222,2100"/><polygon points="1227,2044 1232,2053 1222,2053"/><polygon points="1301,2024 1306,2033 1296,2033"/><polygon points="1297,2086 1302,2095 1292,2095"/><polygon points="1302,2070 1307,2079 1297,2079"/><polygon points="1326,2079 1331,2088 1321,2088"/><polygon points="1348,2044 1353,2053 1343,2053"/><polygon points="1349,2070 1354,2079 1344,2079"/><polygon points="1372,2004 1377,2013 1367,2013"/>
</g>
<g fill="#e46a6a">
<circle cx="1216" cy="1985" r="2.3"/><circle cx="1362" cy="2025" r="2.3"/><circle cx="1372" cy="2041" r="2.3"/><circle cx="1382" cy="2049" r="2.3"/><circle cx="1371" cy="2083" r="2.3"/><circle cx="1376" cy="2094" r="2.3"/><circle cx="1311" cy="2104" r="2.3"/><circle cx="1320" cy="2114" r="2.3"/><circle cx="1340" cy="2132" r="2.3"/><circle cx="1416" cy="2229" r="2.3"/><circle cx="1587" cy="2049" r="2.3"/><circle cx="1532" cy="2049" r="2.3"/><circle cx="1255" cy="2076" r="2.3"/><circle cx="1301" cy="2055" r="2.3"/><circle cx="1217" cy="2083" r="2.3"/><circle cx="1310" cy="2073" r="2.3"/>
</g>
<circle cx="1643" cy="2076" r="6" fill="#e86a6a"/>
<polygon points="1643,2099 1651,2113 1635,2113" fill="#3aa64a"/>
<rect x="1637" y="2130" width="13" height="13" fill="#5b8fd0"/>
<text x="1658" y="2114" font-size="20" fill="#222">CHG</text>
<text x="1658" y="2143" font-size="20" fill="#222">CHH</text>
<g font-size="18" fill="#222" text-anchor="middle">
<text x="1282" y="2354">Promoter</text>
<text x="1458" y="2354">Exon1</text>
<text x="1521" y="2354">Exon2</text>
<text x="1588" y="2354">Exon3</text>
</g>
<rect x="1122" y="2365" width="315" height="13" fill="#6e6358"/>
<rect x="1438" y="2365" width="38" height="13" fill="#f39c1e"/>
<rect x="1485" y="2365" width="62" height="13" fill="#f39c1e"/>
<rect x="1558" y="2365" width="52" height="13" fill="#f39c1e"/>
<line x1="1119" y1="2382" x2="1617" y2="2382" stroke="#111" stroke-width="2.5"/>
<g font-size="17.5" fill="#222" text-anchor="middle">
<text x="1131" y="2404">353220086</text><text x="1438" y="2404">353222215</text><text x="1614" y="2404">353223393</text>
</g>
<text x="989" y="2406" font-size="22" font-style="italic" fill="#111">NCED4</text>
<text x="989" y="2431" font-size="22" fill="#222">expression</text>
<rect x="1122" y="2414" width="41" height="12" fill="#5a7ab8"/>
<rect x="1166" y="2414" width="41" height="12" fill="#3a5ea8"/>
<rect x="1210" y="2414" width="41" height="12" fill="#4a6cb0"/>
<rect x="1254" y="2414" width="41" height="12" fill="#a8b4ae"/>
<rect x="1299" y="2414" width="41" height="12" fill="#e6d4a8"/>
<rect x="1343" y="2414" width="41" height="12" fill="#c83a3a"/>
<g font-size="15" fill="#222">
<text transform="translate(1127,2462) rotate(-40)">MM1</text>
<text transform="translate(1171,2462) rotate(-40)">MM2</text>
<text transform="translate(1215,2462) rotate(-40)">MM3</text>
<text transform="translate(1259,2462) rotate(-40)">MY1</text>
<text transform="translate(1304,2462) rotate(-40)">MY2</text>
<text transform="translate(1348,2462) rotate(-40)">MY3</text>
</g>
<rect x="1486" y="2412" width="121" height="16" fill="url(#expr)"/>
<text x="1478" y="2444" font-size="17" fill="#222" textLength="155" lengthAdjust="spacingAndGlyphs">-1.00 0.00 1.00 2.00</text>
<text x="1480" y="2467" font-size="18" fill="#222" textLength="148" lengthAdjust="spacingAndGlyphs">log 2 （RPKM+1)</text>
</svg>
<script>
(function(){
function rng(s){return function(){s|=0;s=s+0x6D2B79F5|0;var t=Math.imul(s^s>>>15,1|s);t=t+Math.imul(t^t>>>7,61|t)^t;return((t^t>>>14)>>>0)/4294967296;};}
var NS='http://www.w3.org/2000/svg';
var R=rng(7),sc=document.getElementById('sc');
for(var i=0;i<400;i++){var x=1133+R()*250;var v=1+R()*57;if(x>1355&&R()<0.55)continue;if(v>54&&R()<0.5)continue;
var el=document.createElementNS(NS,'rect');el.setAttribute('x',(x-2.6).toFixed(1));el.setAttribute('y',(2102-v*2.53-2.6).toFixed(1));el.setAttribute('width','5.2');el.setAttribute('height','5.2');sc.appendChild(el);}
var cs=document.querySelectorAll('#nodes circle');var N=[];
for(var i=0;i<cs.length;i++){var c=cs[i];N.push([+c.getAttribute('cx'),+c.getAttribute('cy'),parseInt(c.getAttribute('class').slice(1))]);}
var hub={6:1,7:1,8:1,10:1,12:1,14:1};
var semi={0:0.06,1:0.08,3:0.05,4:0.07,5:0.05,9:0.06,11:0.07,13:0.06};
var R2=rng(11),d='';
for(var i=0;i<N.length;i++)for(var j=i+1;j<N.length;j++){var a=N[i][2],b=N[j][2],p;
if(a===2||b===2){var o=a===2?b:a;p=(o===7)?0.15:(o===12?0.03:0);}
else if(a===b){p=hub[a]?0.18:0.1;}
else if(hub[a]&&hub[b]){p=0.11;}
else if(hub[a]||hub[b]){var o=hub[a]?b:a;p=semi[o]||0.04;}
else p=0.03;
if(R2()<p)d+='M'+N[i][0]+','+N[i][1]+'L'+N[j][0]+','+N[j][1];}
var pth=document.createElementNS(NS,'path');pth.setAttribute('d',d);pth.setAttribute('stroke','#a3cedc');pth.setAttribute('stroke-width','2');pth.setAttribute('fill','none');
document.getElementById('edges').appendChild(pth);
})();
</script>
</body></html>
